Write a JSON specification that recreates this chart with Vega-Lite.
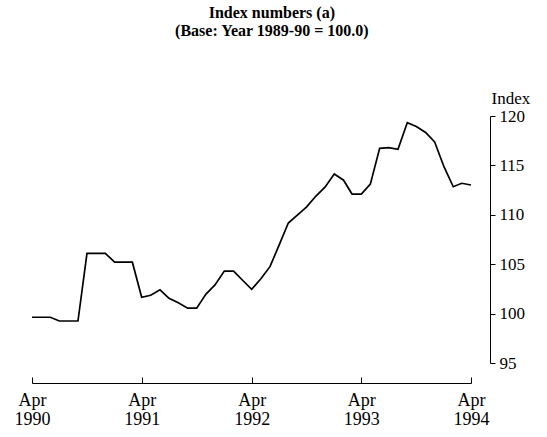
{
  "$schema": "https://vega.github.io/schema/vega-lite/v6.json",
  "autosize": "none",
  "width": 439,
  "height": 247,
  "padding": {"left": 32, "top": 116, "right": 76, "bottom": 74},
  "background": "white",
  "title": {
    "text": ["Index numbers (a)", "(Base: Year 1989-90 = 100.0)"],
    "font": "Liberation Serif",
    "fontSize": 16,
    "fontWeight": "bold",
    "color": "black",
    "anchor": "middle",
    "frame": "bounds",
    "offset": 50,
    "lineHeight": 18
  },
  "data": {
    "values": [
      {"date": "1990-04-01T00:00:00", "index": 99.63},
      {"date": "1990-05-01T00:00:00", "index": 99.63},
      {"date": "1990-06-01T00:00:00", "index": 99.63},
      {"date": "1990-07-01T00:00:00", "index": 99.25},
      {"date": "1990-08-01T00:00:00", "index": 99.25},
      {"date": "1990-09-01T00:00:00", "index": 99.25},
      {"date": "1990-10-01T00:00:00", "index": 106.1},
      {"date": "1990-11-01T00:00:00", "index": 106.1},
      {"date": "1990-12-01T00:00:00", "index": 106.1},
      {"date": "1991-01-01T00:00:00", "index": 105.2},
      {"date": "1991-02-01T00:00:00", "index": 105.2},
      {"date": "1991-03-01T00:00:00", "index": 105.2},
      {"date": "1991-04-01T00:00:00", "index": 101.65},
      {"date": "1991-05-01T00:00:00", "index": 101.85},
      {"date": "1991-06-01T00:00:00", "index": 102.4},
      {"date": "1991-07-01T00:00:00", "index": 101.55},
      {"date": "1991-08-01T00:00:00", "index": 101.1},
      {"date": "1991-09-01T00:00:00", "index": 100.55},
      {"date": "1991-10-01T00:00:00", "index": 100.55},
      {"date": "1991-11-01T00:00:00", "index": 101.98},
      {"date": "1991-12-01T00:00:00", "index": 102.9},
      {"date": "1992-01-01T00:00:00", "index": 104.3},
      {"date": "1992-02-01T00:00:00", "index": 104.3},
      {"date": "1992-03-01T00:00:00", "index": 103.4},
      {"date": "1992-04-01T00:00:00", "index": 102.46},
      {"date": "1992-05-01T00:00:00", "index": 103.5},
      {"date": "1992-06-01T00:00:00", "index": 104.75},
      {"date": "1992-07-01T00:00:00", "index": 106.9},
      {"date": "1992-08-01T00:00:00", "index": 109.17},
      {"date": "1992-09-01T00:00:00", "index": 110.0},
      {"date": "1992-10-01T00:00:00", "index": 110.8},
      {"date": "1992-11-01T00:00:00", "index": 111.9},
      {"date": "1992-12-01T00:00:00", "index": 112.8},
      {"date": "1993-01-01T00:00:00", "index": 114.13},
      {"date": "1993-02-01T00:00:00", "index": 113.5},
      {"date": "1993-03-01T00:00:00", "index": 112.1},
      {"date": "1993-04-01T00:00:00", "index": 112.1},
      {"date": "1993-05-01T00:00:00", "index": 113.1},
      {"date": "1993-06-01T00:00:00", "index": 116.73},
      {"date": "1993-07-01T00:00:00", "index": 116.8},
      {"date": "1993-08-01T00:00:00", "index": 116.63},
      {"date": "1993-09-01T00:00:00", "index": 119.32},
      {"date": "1993-10-01T00:00:00", "index": 118.94},
      {"date": "1993-11-01T00:00:00", "index": 118.33},
      {"date": "1993-12-01T00:00:00", "index": 117.37},
      {"date": "1994-01-01T00:00:00", "index": 114.87},
      {"date": "1994-02-01T00:00:00", "index": 112.84},
      {"date": "1994-03-01T00:00:00", "index": 113.19},
      {"date": "1994-04-01T00:00:00", "index": 113.02}
    ]
  },
  "mark": {"type": "line", "color": "black", "strokeWidth": 1.7, "clip": false},
  "encoding": {
    "x": {
      "field": "date",
      "type": "temporal",
      "scale": {"domain": [{"year": 1990, "month": 4, "date": 1}, {"year": 1994, "month": 4, "date": 1}]},
      "axis": {
        "orient": "bottom",
        "offset": 20,
        "title": null,
        "grid": false,
        "values": [
          {"year": 1990, "month": 4, "date": 1},
          {"year": 1991, "month": 4, "date": 1},
          {"year": 1992, "month": 4, "date": 1},
          {"year": 1993, "month": 4, "date": 1},
          {"year": 1994, "month": 4, "date": 1}
        ],
        "labelExpr": "['Apr', timeFormat(datum.value, '%Y')]",
        "labelFont": "Liberation Serif",
        "labelFontSize": 18,
        "labelLineHeight": 19,
        "labelColor": "black",
        "labelPadding": 14,
        "labelOverlap": false,
        "labelFlush": false,
        "domainColor": "black",
        "domainWidth": 1,
        "tickColor": "black",
        "tickSize": -6,
        "tickWidth": 1
      }
    },
    "y": {
      "field": "index",
      "type": "quantitative",
      "scale": {"domain": [95, 120], "zero": false, "nice": false},
      "axis": {
        "orient": "right",
        "offset": 19,
        "grid": false,
        "values": [95, 100, 105, 110, 115, 120],
        "title": "Index",
        "titleAngle": 0,
        "titleAlign": "left",
        "titleBaseline": "alphabetic",
        "titleX": 1,
        "titleY": -13,
        "titleFont": "Liberation Serif",
        "titleFontSize": 17,
        "titleFontWeight": "normal",
        "titleColor": "black",
        "labelFont": "Liberation Serif",
        "labelFontSize": 17,
        "labelColor": "black",
        "labelPadding": 4,
        "labelFlush": false,
        "labelOverlap": false,
        "domainColor": "black",
        "tickColor": "black",
        "tickSize": 5
      }
    }
  },
  "config": {"view": {"stroke": null}}
}
